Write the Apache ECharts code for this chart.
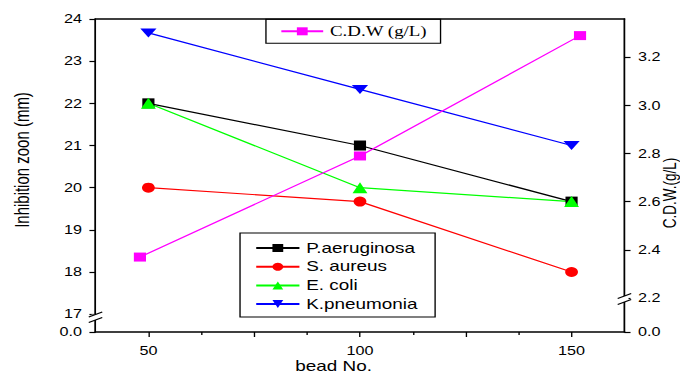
<!DOCTYPE html>
<html><head><meta charset="utf-8">
<script src="https://cdn.jsdelivr.net/npm/echarts@6/dist/echarts.min.js"></script>
<style>
html,body{margin:0;padding:0;background:#fff;overflow:hidden;width:684px;height:376px;}
#wrap{width:684px;height:376px;overflow:hidden;}
#chart{width:506.67px;height:376px;transform:scaleX(1.35);transform-origin:0 0;}
</style></head><body><div id="wrap"><div id="chart"></div></div>
<script>
// ---- data ----
const beadNo = [50, 100, 150];
const cdwBead = [48, 100, 152];
const pAeruginosa = [22, 21, 19.67];
const sAureus = [20, 19.67, 18];
const eColi = [22, 20, 19.67];
const kPneumonia = [23.67, 22.33, 21];
const cdw = [2.37, 2.79, 3.29];
const xMajorTicks = [50, 75, 100, 125, 150];
const xLabelTicks = [50, 100, 150];
const xMinorTicks = [62.5, 87.5, 112.5, 137.5];
const leftTicks = [17, 18, 19, 20, 21, 22, 23, 24];
const rightTicks = [2.2, 2.4, 2.6, 2.8, 3.0, 3.2];
const LEFT_MIN = 16.578, LEFT_MAX = 24;
const RIGHT_MIN = 2.0587, RIGHT_MAX = 3.359;

const pairs = (xs, ys) => xs.map((x, i) => [x, ys[i]]);
const SANS = "'Liberation Sans', Arial, sans-serif";
const SERIF = "'Liberation Serif', 'Times New Roman', serif";
const downTri = 'path://M0,0 L10,0 L5,10 Z';

const chart = echarts.init(document.getElementById('chart'), null, {renderer: 'svg'});

function mkLine(name, xs, ys, color, symbol, size, yIdx) {
  return {
    name, type: 'line', xAxisIndex: 0, yAxisIndex: yIdx,
    data: pairs(xs, ys), symbol, symbolSize: size, showSymbol: true,
    lineStyle: {color, width: 1.2},
    itemStyle: {color, borderWidth: 0},
    emphasis: {disabled: true}
  };
}

const leftVals = [LEFT_MIN].concat(leftTicks);
const rightVals = [RIGHT_MIN].concat(rightTicks);

chart.setOption({
  animation: false,
  textStyle: {fontFamily: SANS, color: '#000'},
  grid: {left: 70.74, right: 44.44, top: 19, bottom: 44, outerBoundsMode: 'none'},
  legend: [
    {
      data: ['C.D.W (g/L)'], orient: 'horizontal', left: 197, top: 19.3,
      padding: [4, 10, 4, 10.4], itemWidth: 31, itemHeight: 10,
      borderColor: '#000', borderWidth: 1, selectedMode: false,
      textStyle: {fontFamily: SERIF, fontSize: 14, color: '#000', lineHeight: 16}
    },
    {
      data: ['P.aeruginosa', 'S. aureus', 'E. coli', 'K.pneumonia'], orient: 'vertical',
      left: 177.8, top: 233, padding: [7, 13, 5, 11], itemWidth: 32, itemHeight: 10, itemGap: 2.7,
      borderColor: '#000', borderWidth: 1, selectedMode: false,
      textStyle: {fontFamily: SANS, fontSize: 14, color: '#000', lineHeight: 16}
    }
  ],
  xAxis: [
    {
      type: 'value', position: 'bottom', min: 37.5, max: 162.5,
      axisLine: {show: true, onZero: false, lineStyle: {color: '#000', width: 1.5}},
      axisTick: {show: true, inside: false, length: 5, customValues: xMajorTicks, lineStyle: {color: '#000', width: 1}},
      axisLabel: {show: true, customValues: xLabelTicks, margin: 13, fontSize: 12, color: '#000', fontFamily: SANS},
      splitLine: {show: false}
    },
    {
      type: 'value', position: 'bottom', min: 37.5, max: 162.5,
      axisLine: {show: false, onZero: false},
      axisTick: {show: true, inside: false, length: 3, customValues: xMinorTicks, lineStyle: {color: '#000', width: 1}},
      axisLabel: {show: false},
      splitLine: {show: false}
    },
    {
      type: 'value', position: 'top', min: 37.5, max: 162.5,
      axisLine: {show: true, onZero: false, lineStyle: {color: '#000', width: 1.5}},
      axisTick: {show: false}, axisLabel: {show: false}, splitLine: {show: false}
    }
  ],
  yAxis: [
    {
      type: 'value', position: 'left', min: LEFT_MIN, max: LEFT_MAX,
      axisLine: {show: true, onZero: false, lineStyle: {color: '#000', width: 1.3}},
      axisTick: {show: true, inside: false, length: 4.5, customValues: leftVals, lineStyle: {color: '#000', width: 1.2}},
      axisLabel: {show: true, customValues: leftVals, margin: 10, fontSize: 12, color: '#000', fontFamily: SANS,
        showMinLabel: true, showMaxLabel: true,
        formatter: v => (v < 16.9 ? '0.0' : String(Math.round(v)))},
      splitLine: {show: false}
    },
    {
      type: 'value', position: 'right', min: RIGHT_MIN, max: RIGHT_MAX,
      axisLine: {show: true, onZero: false, lineStyle: {color: '#000', width: 1.3}},
      axisTick: {show: true, inside: false, length: 4.5, customValues: rightVals, lineStyle: {color: '#000', width: 1.2}},
      axisLabel: {show: true, customValues: rightVals, margin: 10, fontSize: 12, color: '#000', fontFamily: SANS,
        showMinLabel: true, showMaxLabel: true,
        formatter: v => (v < 2.1 ? '0.0' : v.toFixed(1))},
      splitLine: {show: false}
    }
  ],
  series: [
    mkLine('P.aeruginosa', beadNo, pAeruginosa, '#000000', 'rect', [9, 10], 0),
    mkLine('S. aureus', beadNo, sAureus, '#ff0000', 'circle', [9.5, 10], 0),
    mkLine('E. coli', beadNo, eColi, '#00ff00', 'triangle', [11, 11], 0),
    mkLine('K.pneumonia', beadNo, kPneumonia, '#0000ff', downTri, [12, 9], 0),
    mkLine('C.D.W (g/L)', cdwBead, cdw, '#ff00ff', 'rect', [9, 9], 1)
  ]
});

// break marks and axis titles
const xL = chart.convertToPixel({xAxisIndex: 0}, 37.5);
const xR = chart.convertToPixel({xAxisIndex: 0}, 162.5);
const y17 = chart.convertToPixel({yAxisIndex: 0}, 17);
const y22r = chart.convertToPixel({yAxisIndex: 1}, 2.2);
function breakMark(x, yA, yB) {
  return [
    {type: 'rect', shape: {x: x - 3, y: yA, width: 6, height: yB - yA}, style: {fill: '#fff'}, z: 100},
    {type: 'line', shape: {x1: x - 5, y1: yA + 2.5, x2: x + 5, y2: yA - 2.5}, style: {stroke: '#000', lineWidth: 1}, z: 101},
    {type: 'line', shape: {x1: x - 5, y1: yB + 2.5, x2: x + 5, y2: yB - 2.5}, style: {stroke: '#000', lineWidth: 1}, z: 101}
  ];
}
chart.setOption({
  graphic: [].concat(
    breakMark(xL, y17 + 0.3, y17 + 5.8),
    breakMark(xR, y22r - 2, y22r + 4),
    [
      {type: 'text', x: 16.3, y: 160, rotation: Math.PI / 2, z: 102,
        style: {text: 'Inhibition zoon (mm)', font: "15px " + SANS, fill: '#000', align: 'center', verticalAlign: 'middle'}},
      {type: 'text', x: 495.5, y: 193, rotation: Math.PI / 2, z: 102,
        style: {text: 'C.D.W.(g/L)', font: "13.5px " + SANS, fill: '#000', align: 'center', verticalAlign: 'middle'}},
      {type: 'text', x: 247.1, y: 366, z: 102,
        style: {text: 'bead No.', font: "14px " + SANS, fill: '#000', align: 'center', verticalAlign: 'middle'}}
    ]
  )
});
</script></body></html>
